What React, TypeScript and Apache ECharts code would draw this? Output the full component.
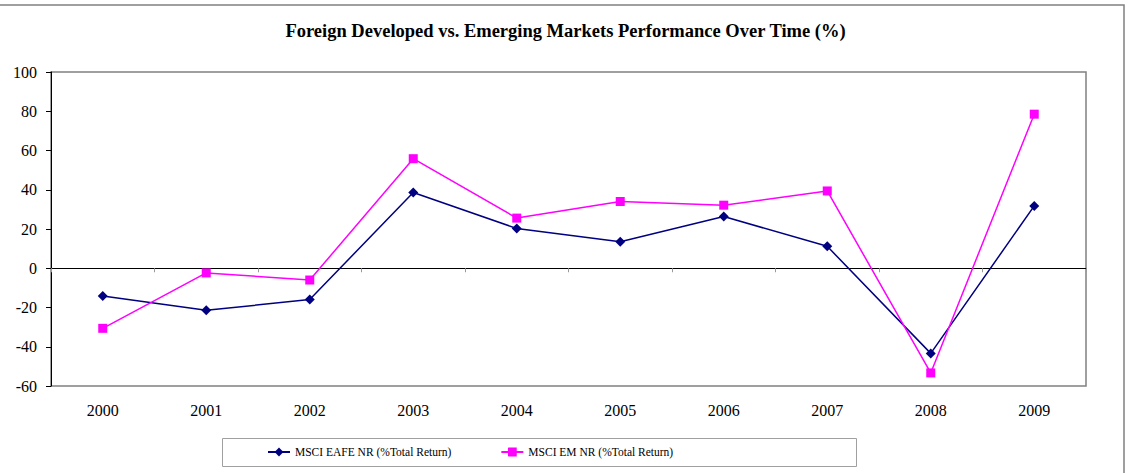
import React, { useEffect, useRef } from "react";
import * as echarts from "echarts";

const years = ["2000", "2001", "2002", "2003", "2004", "2005", "2006", "2007", "2008", "2009"];
const eafe = [-14.17, -21.44, -15.94, 38.59, 20.25, 13.54, 26.34, 11.17, -43.38, 31.78];
const em = [-30.61, -2.37, -6.0, 55.82, 25.55, 34.0, 32.14, 39.39, -53.33, 78.51];
const seriesNames = ["MSCI EAFE NR (%Total Return)", "MSCI EM NR (%Total Return)"];
const titleText = "Foreign Developed vs. Emerging Markets Performance Over Time (%)";

const FONT = "'Liberation Serif', 'Times New Roman', serif";

export default function App() {
  const ref = useRef<HTMLDivElement>(null);
  useEffect(() => {
    if (!ref.current) return;
    const chart = echarts.init(ref.current, null, { renderer: "svg" });
    chart.setOption({
      animation: false,
      backgroundColor: "#ffffff",
      textStyle: { fontFamily: FONT },
      title: {
        text: titleText,
        left: "center",
        top: 16,
        textStyle: { fontFamily: FONT, fontSize: 18.5, fontWeight: "bold", color: "#000" },
      },
      graphic: [
        {
          type: "rect",
          shape: { x: -10, y: 5, width: 1134, height: 520 },
          style: { fill: "none", stroke: "#808080", lineWidth: 1.5 },
          silent: true,
        },
        {
          type: "rect",
          shape: { x: 222.5, y: 438.5, width: 634, height: 28 },
          style: { fill: "none", stroke: "#a0a0a0", lineWidth: 1 },
          silent: true,
        },
      ],
      legend: {
        left: 267,
        top: 446,
        itemWidth: 22,
        itemHeight: 11,
        itemGap: 49,
        padding: 0,
        textStyle: { fontFamily: FONT, fontSize: 11.5, color: "#000" },
        data: seriesNames,
      },
      grid: {
        left: 51,
        right: 45,
        top: 72,
        bottom: 87,
        show: true,
        borderColor: "#808080",
        borderWidth: 1.5,
      },
      xAxis: [
        {
          type: "category",
          data: years,
          position: "bottom",
          boundaryGap: true,
          axisLine: { show: false, onZero: false },
          axisTick: { show: false },
          axisLabel: { fontFamily: FONT, fontSize: 16, color: "#000", margin: 16 },
          splitLine: { show: false },
        },
        {
          type: "category",
          data: years,
          position: "top",
          boundaryGap: true,
          axisLine: { show: true, onZero: true, lineStyle: { color: "#000", width: 1 } },
          axisTick: { show: true, inside: true, length: 4, lineStyle: { color: "#999" } },
          axisLabel: { show: false },
          splitLine: { show: false },
        },
      ],
      yAxis: {
        type: "value",
        min: -60,
        max: 100,
        interval: 20,
        axisLine: { show: true, lineStyle: { color: "#000", width: 1 } },
        axisTick: { show: true, length: 5, lineStyle: { color: "#000" } },
        axisLabel: { fontFamily: FONT, fontSize: 16, color: "#000", margin: 14 },
        splitLine: { show: false },
      },
      series: [
        {
          name: seriesNames[0],
          type: "line",
          data: eafe,
          xAxisIndex: 0,
          color: "#000080",
          symbol: "diamond",
          symbolSize: 10,
          lineStyle: { color: "#000080", width: 1.5 },
          itemStyle: { color: "#000080" },
        },
        {
          name: seriesNames[1],
          type: "line",
          data: em,
          xAxisIndex: 0,
          color: "#ff00ff",
          symbol: "rect",
          symbolSize: 9,
          lineStyle: { color: "#ff00ff", width: 1.5 },
          itemStyle: { color: "#ff00ff" },
        },
      ],
    });
    return () => chart.dispose();
  }, []);
  return (
    <div
      ref={ref}
      style={{ position: "fixed", left: 0, top: 0, width: 1131, height: 473 }}
    />
  );
}
